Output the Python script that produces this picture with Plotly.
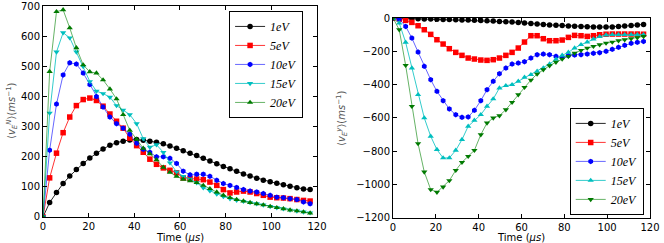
import plotly.graph_objects as go

time_us = [0, 2.9, 5.9, 8.8, 11.7, 14.6, 17.6, 20.5, 23.4, 26.3, 29.3, 32.2, 35.1, 38.0,
           41.0, 43.9, 46.8, 49.7, 52.7, 55.6, 58.5, 61.4, 64.4, 67.3, 70.2, 73.1, 76.1,
           79.0, 81.9, 84.8, 87.8, 90.7, 93.6, 96.5, 99.5, 102.4, 105.3, 108.2, 111.2,
           114.1, 117.0]

labels = ["1eV", "5eV", "10eV", "15eV", "20eV"]

# left panel <v_E^N>
vN_1 = [0, 48, 81, 111, 136, 158, 178, 196, 212, 226, 238, 247, 252, 256, 257, 255, 252, 248, 243, 236,
        228, 220, 212, 204, 195, 186, 177, 168, 160, 152, 143, 136, 129, 122, 117, 112, 107, 102, 97, 93, 91]
vN_5 = [0, 130, 212, 280, 332, 370, 390, 395, 387, 368, 342, 318, 295, 262, 237, 215, 192, 175, 163, 155,
        147, 130, 128, 126, 124, 116, 105, 91, 80, 83, 86, 83, 78, 72, 66, 64, 63, 61, 58, 55, 53]
vN_10 = [0, 222, 375, 472, 512, 508, 478, 440, 400, 365, 332, 310, 295, 275, 245, 225, 215, 200, 200, 195,
         178, 152, 140, 142, 142, 135, 122, 111, 105, 98, 91, 86, 83, 78, 72, 66, 64, 61, 58, 50, 44]
vN_15 = [0, 345, 548, 612, 595, 548, 500, 450, 418, 410, 398, 370, 355, 340, 310, 260, 232, 240, 215, 180,
         150, 135, 126, 114, 97, 87, 76, 68, 61, 56, 52, 48, 44, 40, 35, 31, 27, 23, 20, 17, 14]
vN_20 = [0, 483, 682, 688, 628, 562, 505, 482, 478, 455, 425, 392, 340, 288, 258, 228, 210, 190, 165, 148,
         135, 125, 120, 114, 105, 94, 83, 72, 64, 58, 53, 48, 44, 40, 35, 31, 27, 23, 20, 17, 13]

# right panel <v_E^y>
vy_1 = [0, -1, -2, -3, -4, -5, -6, -7, -8, -9, -10, -11, -12, -13, -14, -16, -18, -20, -22, -24,
        -26, -29, -32, -35, -38, -41, -43, -45, -47, -49, -51, -52, -53, -54, -54, -53, -51, -48, -45, -42, -38]
vy_5 = [0, -6, -14, -26, -46, -70, -98, -130, -156, -184, -206, -224, -240, -246, -252, -254, -250, -240,
        -224, -206, -180, -144, -106, -106, -124, -136, -136, -132, -116, -104, -106, -110, -106, -100, -97,
        -96, -96, -96, -96, -96, -97]
vy_10 = [0, -6, -50, -120, -204, -290, -370, -440, -496, -546, -580, -596, -594, -554, -496, -430, -380,
         -334, -300, -276, -270, -262, -240, -220, -216, -220, -230, -236, -226, -222, -220, -216, -212,
         -208, -200, -188, -176, -164, -152, -146, -140]
vy_15 = [0, -30, -146, -300, -460, -600, -710, -790, -840, -840, -794, -730, -650, -614, -580, -530, -486,
         -420, -406, -400, -380, -356, -340, -320, -300, -276, -248, -224, -206, -180, -160, -144, -126,
         -112, -102, -100, -100, -100, -100, -100, -100]
vy_20 = [0, -70, -284, -530, -754, -924, -1030, -1046, -1014, -976, -914, -866, -830, -794, -700, -630,
         -600, -586, -550, -506, -460, -416, -372, -336, -310, -286, -265, -246, -230, -210, -194, -180,
         -170, -160, -150, -144, -136, -130, -124, -118, -110]

x_title = "Time (<i>μs</i>)"
yN_title = "⟨<i>v</i><sub><i>E</i></sub><sup><i>N</i></sup>⟩(<i>ms</i><sup>−1</sup>)"
yy_title = "⟨<i>v</i><sub><i>E</i></sub><sup><i>y</i></sup>⟩(<i>ms</i><sup>−1</sup>)"

line_colors = ["rgba(0,0,0,0.85)", "rgba(255,0,0,0.8)", "rgba(0,0,255,0.6)",
               "rgba(0,191,191,0.8)", "rgba(0,128,0,0.6)"]
marker_colors = ["#000000", "#ff0000", "#0000ff", "#00bfbf", "#007a00"]
left_symbols = ["circle", "square", "hexagon", "triangle-down", "triangle-up"]
right_symbols = ["circle", "square", "hexagon", "triangle-up", "triangle-down"]
left_series = [vN_1, vN_5, vN_10, vN_15, vN_20]
right_series = [vy_1, vy_5, vy_10, vy_15, vy_20]

fig = go.Figure()
for i, lab in enumerate(labels):
    fig.add_trace(go.Scatter(
        x=time_us, y=left_series[i], mode="lines+markers", name="<i>" + lab + "</i>",
        line=dict(color=line_colors[i], width=1),
        marker=dict(symbol=left_symbols[i], size=5.5, color=marker_colors[i], line=dict(width=0)),
        xaxis="x", yaxis="y", legend="legend"))
for i, lab in enumerate(labels):
    fig.add_trace(go.Scatter(
        x=time_us, y=right_series[i], mode="lines+markers", name="<i>" + lab + "</i>",
        line=dict(color=line_colors[i], width=1),
        marker=dict(symbol=right_symbols[i], size=5.5, color=marker_colors[i], line=dict(width=0)),
        xaxis="x2", yaxis="y2", legend="legend2"))

axis_common = dict(showline=True, mirror="ticks", linecolor="black", linewidth=1,
                   ticks="inside", ticklen=4, tickcolor="black", showgrid=False, zeroline=False,
                   automargin=False,
                   tickfont=dict(family="DejaVu Sans", size=10, color="black"))

legend_common = dict(xanchor="left", yanchor="top", bordercolor="black", borderwidth=1,
                     bgcolor="white", font=dict(family="Liberation Serif", size=12),
                     tracegroupgap=0, itemwidth=30)

fig.update_layout(
    width=664, height=243,
    margin=dict(l=0, r=0, t=0, b=0, autoexpand=False),
    paper_bgcolor="white", plot_bgcolor="white",
    font=dict(family="DejaVu Sans", size=10, color="black"),
    xaxis=dict(domain=[0.0648, 0.4774], range=[0, 120.01], dtick=20, anchor="y", **axis_common),
    yaxis=dict(domain=[0.107, 0.975], range=[0, 700.5], tickvals=[0, 100, 200, 300, 400, 500, 600, 700],
               anchor="x", **axis_common),
    xaxis2=dict(domain=[0.5919, 0.9789], range=[0, 120.01], dtick=20, anchor="y2", **axis_common),
    yaxis2=dict(domain=[0.103, 0.926], range=[-1200.5, 0.5], dtick=200, anchor="x2", **axis_common),
    legend=dict(x=0.345, y=0.955, **legend_common),
    legend2=dict(x=0.858, y=0.556, **legend_common),
    annotations=[
        dict(text=x_title, x=180 / 664, y=1 - 237 / 243, xref="paper", yref="paper",
             showarrow=False, xanchor="center", yanchor="middle", font=dict(size=10)),
        dict(text=x_title, x=521 / 664, y=1 - 237 / 243, xref="paper", yref="paper",
             showarrow=False, xanchor="center", yanchor="middle", font=dict(size=10)),
        dict(text=yN_title, x=12 / 664, y=1 - 111 / 243, xref="paper", yref="paper", textangle=-90,
             showarrow=False, xanchor="center", yanchor="middle", font=dict(size=10, color="#555555")),
        dict(text=yy_title, x=342 / 664, y=1 - 118 / 243, xref="paper", yref="paper", textangle=-90,
             showarrow=False, xanchor="center", yanchor="middle", font=dict(size=10, color="#555555")),
    ],
)

fig.write_html("out.html", config={"displayModeBar": False},
               post_script="document.body.style.margin='0px';document.body.style.overflow='hidden';")
